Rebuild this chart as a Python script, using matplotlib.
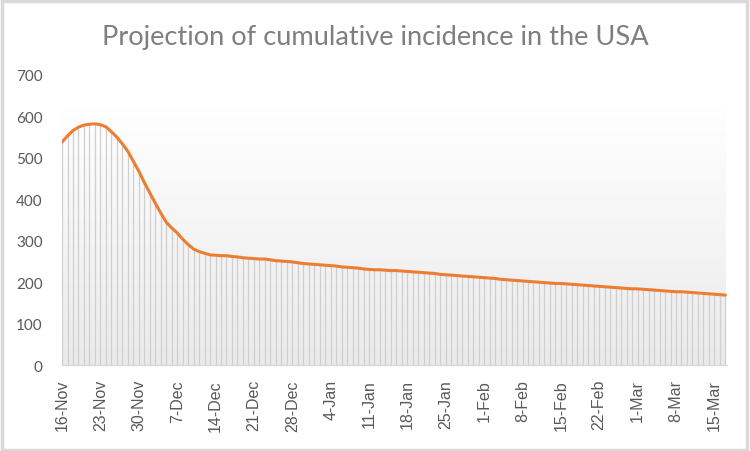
import numpy as np
import pandas as pd
import matplotlib.pyplot as plt
from matplotlib.patches import Rectangle

# daily projected cumulative incidence, 16-Nov to 17-Mar
start_date = "2020-11-16"
incidence = [
    538, 553, 566, 574, 579, 581, 582, 580, 575, 563,
    550, 534, 516, 492, 468, 441, 416, 391, 367, 345,
    331, 319, 304, 291, 280, 274, 270, 266,
    265, 264, 264, 262, 261, 259, 258, 257, 256, 256,
    254, 252, 251, 250, 249, 247, 245, 244, 243, 242,
    241, 240, 239, 237, 236, 235, 234, 232, 231, 230,
    230, 229, 228, 228, 227, 226, 225, 224, 223, 222,
    221, 219, 218, 217, 216, 215, 214, 213, 212, 211,
    210, 209, 207, 206, 205, 204, 203, 202, 201, 200,
    199, 198, 197, 197, 196, 195, 194, 193, 192, 191,
    190, 189, 188, 187, 186, 185, 184, 184, 183, 182,
    181, 180, 179, 178, 177, 177, 176, 175, 174, 173,
    172, 171, 170, 169,
]
yticks = [0, 100, 200, 300, 400, 500, 600, 700]

dates = pd.date_range(start_date, periods=len(incidence), freq="D")
x = np.arange(len(incidence))
y = np.array(incidence)
tick_pos = x[::7]
tick_labels = [f"{d.day}-{d.strftime('%b')}" for d in dates[::7]]

fig = plt.figure(figsize=(7.5, 4.52), dpi=100)
fig.patches.append(Rectangle((0.002, 0.003), 0.994, 0.992, transform=fig.transFigure,
                             fill=False, edgecolor="#d9d9d9", linewidth=2.5))
ax = fig.add_axes([0.0827, 0.190, 0.8866, 0.642])

# white-to-grey gradient behind the plot (light at top)
shade = np.linspace(1.0, 0.92, 256)
grad = np.dstack([shade, shade, shade]).reshape(256, 1, 3)
ax.imshow(grad, extent=[0, x[-1], 0, 625], aspect="auto", origin="upper", zorder=0)

ax.vlines(x, 0, y, color="#cfcfcf", linewidth=0.9, zorder=1)
ax.plot(x, y, color="#ED7D31", linewidth=2.2, zorder=3, solid_capstyle="round")

ax.set_xlim(0, x[-1] + 0.3)
ax.set_ylim(0, 700)
ax.set_yticks(yticks)
ax.set_yticklabels([str(v) for v in yticks], fontsize=11, color="#595959", family="Lato")
ax.set_xticks(tick_pos)
ax.set_xticklabels(tick_labels, rotation=90, fontsize=11.5, color="#595959",
                   family="Liberation Sans")
ax.tick_params(axis="both", length=0)
ax.tick_params(axis="y", pad=14)
ax.tick_params(axis="x", pad=10)
for s in ["top", "right", "left"]:
    ax.spines[s].set_visible(False)
ax.spines["bottom"].set_color("#d9d9d9")
ax.spines["bottom"].set_linewidth(1)

fig.text(0.5, 0.916, "Projection of cumulative incidence in the USA", ha="center",
         va="center", fontsize=19.6, color="#7f7f7f", family="Lato")

fig.savefig("out.png", dpi=100)
